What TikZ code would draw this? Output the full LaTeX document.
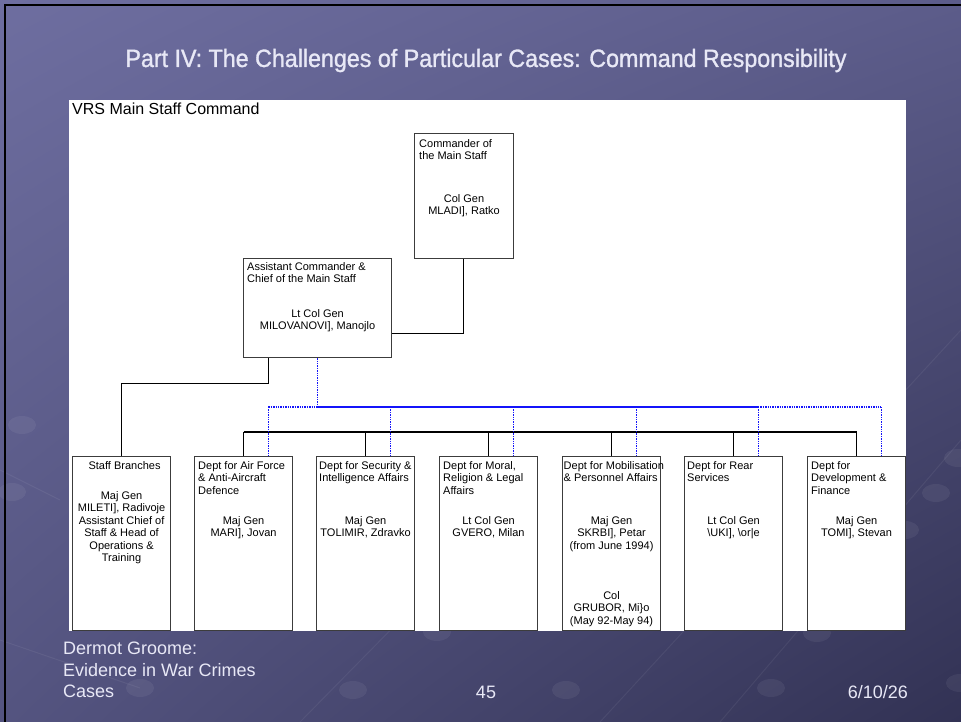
\documentclass[tikz,border=0pt]{standalone}
\usepackage{fontspec}
\setmainfont{Liberation Sans}
\newfontfamily\titlefont[FakeStretch=0.93, FakeBold=1.2]{Liberation Sans}
\usetikzlibrary{positioning, calc, shadings}
\definecolor{slidetl}{RGB}{110,110,160}
\definecolor{slidetr}{RGB}{92,92,138}
\definecolor{slidebl}{RGB}{84,84,128}
\definecolor{slidebr}{RGB}{50,50,84}
\definecolor{slidetext}{RGB}{232,232,246}
\definecolor{boxline}{RGB}{60,60,60}
\definecolor{liaisonblue}{RGB}{20,20,250}
\tikzset{
	x=1pt, y=-1pt, % pixel-like coordinates, y runs downwards
	orgbox/.style={draw=boxline, fill=white, line width=1.1pt, inner sep=0pt, anchor=north west},
	dept/.style={orgbox, minimum width=98pt, minimum height=174pt}, % the bottom row
	hdr/.style={font=\fontsize{11}{12.5}\selectfont, align=left, inner sep=0pt, anchor=north west},
	who/.style={font=\fontsize{11}{12.5}\selectfont, align=center, inner sep=0pt, anchor=north},
	cmdline/.style={draw=black, line width=0.9pt},
	liaison/.style={draw=liaisonblue, line width=1.4pt, dash pattern=on 1.4pt off 1pt},
	slidetxt/.style={text=slidetext, inner sep=0pt},
	blob/.style={fill=white, fill opacity=0.06},
	streak/.style={draw=white, draw opacity=0.06, line width=1pt},
}

\begin{document}
\begin{tikzpicture}
	\useasboundingbox (0,0) rectangle (961,722);
	% slide background
	\shade[upper left=slidetl, upper right=slidetr, lower left=slidebl, lower right=slidebr] (0,0) rectangle (961,722);
	\draw[streak] (600,722) -- (961,330);
	\draw[streak] (720,722) -- (961,440);
	\draw[streak] (300,722) -- (420,600);
	\draw[streak] (0,470) -- (60,500);
	\draw[streak] (140,688) -- (0,640);
	\foreach \bx/\by in {22/425, 12/492, 958/458, 936/493, 905/530, 960/683, 140/688, 353/690, 566/690, 771/688, 437/632, 817/633}
		\fill[blob] (\bx,\by) ellipse (14 and 9);
	\draw[black, line width=2.5pt] (5,722) -- (5,5) -- (961,5);
	
	\node[slidetxt, anchor=base, font=\titlefont\fontsize{25}{28}\selectfont] (title) at (486,67) {Part IV: The Challenges of Particular Cases: Command Responsibility};
	
	% the chart panel
	\fill[white] (69,100) rectangle (906,631);
	\node[anchor=base west, inner sep=0pt, font=\fontsize{16}{18}\selectfont] (chartname) at (72,115) {VRS Main Staff Command};
	
	%% top of the command
	\node[orgbox, minimum width=99pt, minimum height=125pt] (cmd) at (414,133) {};
	\node[hdr] (cmd-h) at ([shift={(5,6)}]cmd.north west) {Commander of\\the Main Staff};
	\node[who] (cmd-w) at ([shift={(0,61)}]cmd.north) {Col Gen\\MLADI], Ratko};
	
	\node[orgbox, minimum width=148pt, minimum height=99pt] (asst) at (243,258) {};
	\node[hdr] (asst-h) at ([shift={(4,4)}]asst.north west) {Assistant Commander \&\\Chief of the Main Staff};
	\node[who] (asst-w) at ([shift={(0,51)}]asst.north) {Lt Col Gen\\MILOVANOVI], Manojlo};
	
	%% the departments
	\node[dept] (staff) at (72,456) {};
	\node[who] (staff-h) at ([shift={(3,5)}]staff.north) {Staff Branches};
	\node[who] (staff-w) at ([shift={(0,35)}]staff.north) {Maj Gen\\MILETI], Radivoje\\Assistant Chief of\\Staff \& Head of\\Operations \&\\Training};
	
	\node[dept] (af) at (194,456) {};
	\node[hdr] (af-h) at ([shift={(4,5)}]af.north west) {Dept for Air Force\\\& Anti-Aircraft\\Defence};
	\node[who] (af-w) at ([shift={(0,60)}]af.north) {Maj Gen\\MARI], Jovan};
	
	\node[dept] (sec) at (316,456) {};
	\node[hdr] (sec-h) at ([shift={(3,5)}]sec.north west) {Dept for Security \&\\Intelligence Affairs};
	\node[who] (sec-w) at ([shift={(0,60)}]sec.north) {Maj Gen\\TOLIMIR, Zdravko};
	
	\node[dept] (moral) at (439,456) {};
	\node[hdr] (moral-h) at ([shift={(4,5)}]moral.north west) {Dept for Moral,\\Religion \& Legal\\Affairs};
	\node[who] (moral-w) at ([shift={(0,60)}]moral.north) {Lt Col Gen\\GVERO, Milan};
	
	\node[dept] (mob) at (562,456) {};
	\node[hdr] (mob-h) at ([shift={(1.5,5)}]mob.north west) {Dept for Mobilisation\\\& Personnel Affairs};
	\node[who] (mob-w) at ([shift={(0,60)}]mob.north) {Maj Gen\\SKRBI], Petar\\(from June 1994)};
	\node[who] (mob-w2) at ([shift={(0,135)}]mob.north) {Col\\GRUBOR, Mi\}o\\(May 92-May 94)};
	
	\node[dept] (rear) at (684,456) {};
	\node[hdr] (rear-h) at ([shift={(3,5)}]rear.north west) {Dept for Rear\\Services};
	\node[who] (rear-w) at ([shift={(0,60)}]rear.north) {Lt Col Gen\\\textbackslash UKI], \textbackslash or|e};
	
	\node[dept] (dev) at (807,456) {};
	\node[hdr] (dev-h) at ([shift={(4,5)}]dev.north west) {Dept for\\Development \&\\Finance};
	\node[who] (dev-w) at ([shift={(0,60)}]dev.north) {Maj Gen\\TOMI], Stevan};
	
	%% command lines
	\coordinate (barY) at (0,432);
	\draw[cmdline, line width=1.8pt] ($(cmd.south west)+(25,0)$) -- ($(cmd.south west)+(25,0)$ |- barY);
	\draw[cmdline] ($(cmd.south west)+(49,0)$) |- ($(asst.south east)+(0,-25)$);
	\draw[cmdline] ($(asst.south west)+(25,0)$) -- ++(0,25) -| (staff.north);
	\draw[cmdline, line width=1.2pt] (af.north |- barY) -- (dev.north |- barY);
	\foreach \n in {af, sec, moral, mob, rear, dev}
		\draw[cmdline] (\n.north |- barY) -- (\n.north);
	
	%% liaison lines of the assistant commander
	\coordinate (liaisonY) at (0,407);
	\foreach \n in {af, sec, moral, mob, rear, dev}
		\coordinate (\n-tap) at ($(\n.north)!.5!(\n.north east)$);
	\draw[liaison] (asst.south) -- (asst.south |- liaisonY);
	\draw[liaison] (af-tap |- liaisonY) -- (dev-tap |- liaisonY);
	\draw[liaisonblue, line width=1.4pt] (asst.south |- liaisonY) -- (rear-tap |- liaisonY);
	\foreach \n in {af, sec, moral, mob, rear, dev}
		\draw[liaison] (\n-tap |- liaisonY) -- (\n-tap);
	
	%% footer
	\node[slidetxt, anchor=north west, align=left, font=\fontsize{18}{21.5}\selectfont] (author) at (63,642) {Dermot Groome:\\Evidence in War Crimes\\Cases};
	\node[slidetxt, anchor=base, font=\fontsize{18}{21.5}\selectfont] (pageno) at (486,698) {45};
	\node[slidetxt, anchor=base east, font=\fontsize{18}{21.5}\selectfont] (date) at (908,698) {6/10/26};
\end{tikzpicture}
\end{document}
